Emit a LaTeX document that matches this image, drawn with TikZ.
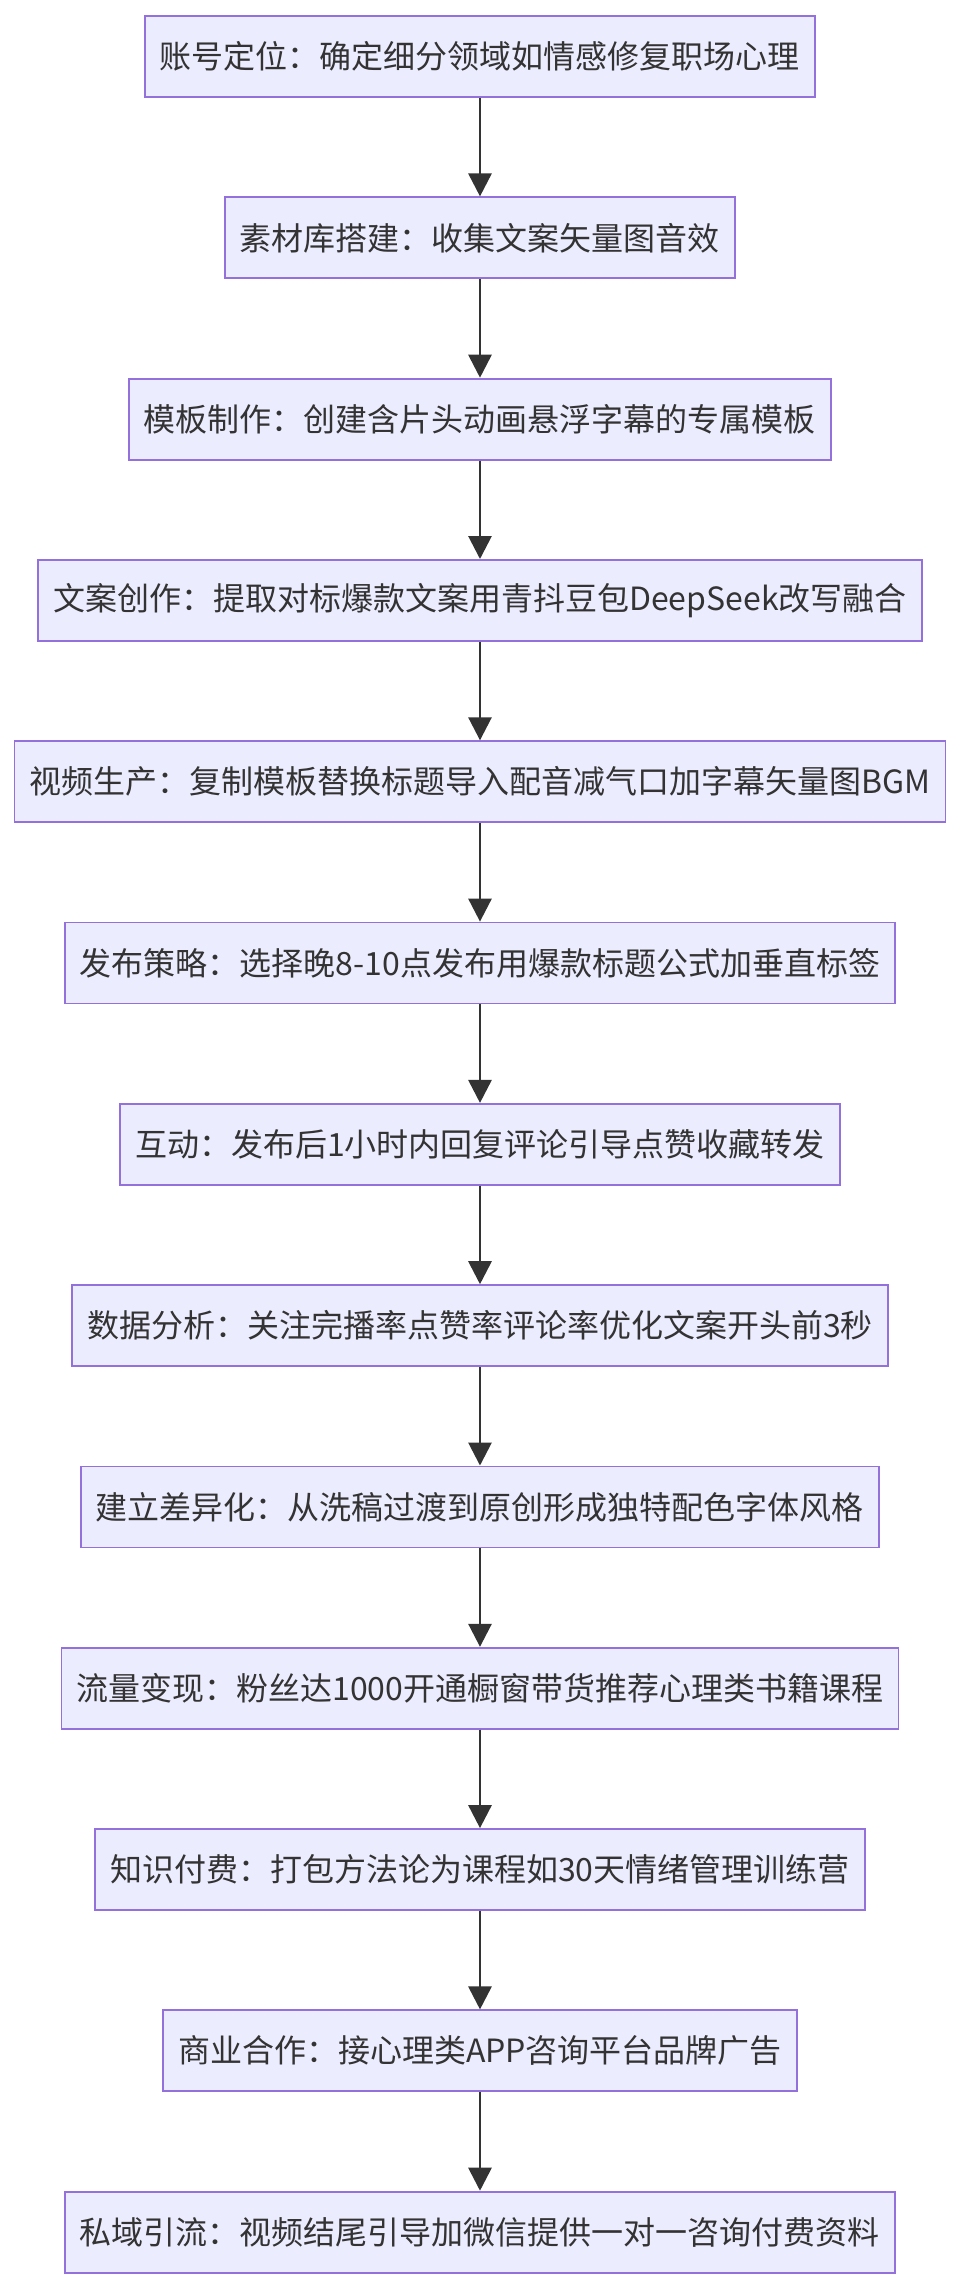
\documentclass[tikz,border=0pt]{standalone}
\usepackage{fontspec}
\setmainfont{Noto Sans CJK SC}
\usepackage{xcolor}
\usepackage{tikz}
\usetikzlibrary{arrows.meta, positioning}
\definecolor{boxfill}{HTML}{ECECFF}
\definecolor{boxline}{HTML}{9370DB}
\definecolor{ink}{HTML}{333333}
\tikzset{
  %% Flow step box
  flowbox/.style={
    rectangle, draw=boxline, fill=boxfill,
    text=ink, font=\fontsize{16pt}{19pt}\selectfont,
    inner xsep=7.5pt, inner ysep=0pt,
    minimum height=40.5pt, line width=0.9pt
  },
  %% Arrow
  arr/.style={-{Triangle[length=11.5pt,width=11.5pt]},
              draw=ink, line width=1.4pt},
}
\begin{document}
\begin{tikzpicture}
  \useasboundingbox (-240pt,0.993) rectangle (240pt,-39.214);

  \node[flowbox] (pos)  at (0,0)       {账号定位：确定细分领域如情感修复职场心理};
  \node[flowbox] (lib)  at (0,-3.186)  {素材库搭建：收集文案矢量图音效};
  \node[flowbox] (tpl)  at (0,-6.372)  {模板制作：创建含片头动画悬浮字幕的专属模板};
  \node[flowbox] (copy) at (0,-9.558)  {文案创作：提取对标爆款文案用青抖豆包DeepSeek改写融合};
  \node[flowbox] (prod) at (0,-12.744) {视频生产：复制模板替换标题导入配音减气口加字幕矢量图BGM};
  \node[flowbox] (pub)  at (0,-15.930) {发布策略：选择晚8-10点发布用爆款标题公式加垂直标签};
  \node[flowbox] (act)  at (0,-19.116) {互动：发布后1小时内回复评论引导点赞收藏转发};
  \node[flowbox] (data) at (0,-22.302) {数据分析：关注完播率点赞率评论率优化文案开头前3秒};
  \node[flowbox] (diff) at (0,-25.488) {建立差异化：从洗稿过渡到原创形成独特配色字体风格};
  \node[flowbox] (cash) at (0,-28.674) {流量变现：粉丝达1000开通橱窗带货推荐心理类书籍课程};
  \node[flowbox] (paid) at (0,-31.860) {知识付费：打包方法论为课程如30天情绪管理训练营};
  \node[flowbox] (biz)  at (0,-35.046) {商业合作：接心理类APP咨询平台品牌广告};
  \node[flowbox] (priv) at (0,-38.232) {私域引流：视频结尾引导加微信提供一对一咨询付费资料};

  %% Connectors
  \draw[arr] (pos.south)  -- (lib.north);
  \draw[arr] (lib.south)  -- (tpl.north);
  \draw[arr] (tpl.south)  -- (copy.north);
  \draw[arr] (copy.south) -- (prod.north);
  \draw[arr] (prod.south) -- (pub.north);
  \draw[arr] (pub.south)  -- (act.north);
  \draw[arr] (act.south)  -- (data.north);
  \draw[arr] (data.south) -- (diff.north);
  \draw[arr] (diff.south) -- (cash.north);
  \draw[arr] (cash.south) -- (paid.north);
  \draw[arr] (paid.south) -- (biz.north);
  \draw[arr] (biz.south)  -- (priv.north);

\end{tikzpicture}
\end{document}
